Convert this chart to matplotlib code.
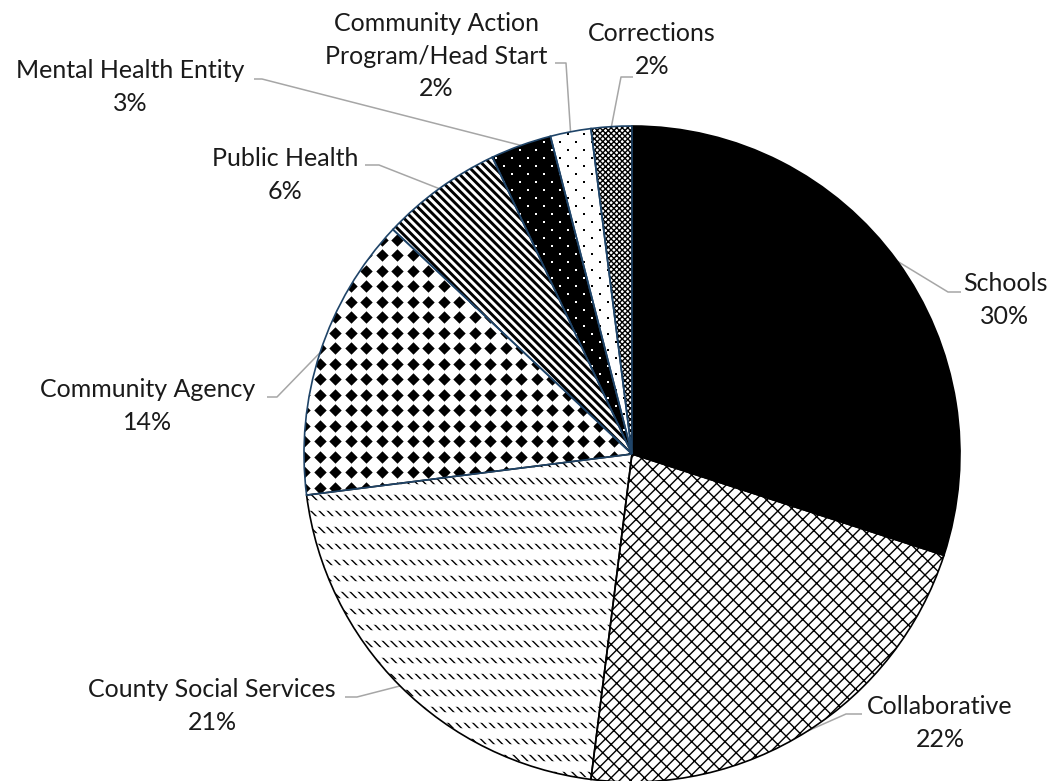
import numpy as np
import matplotlib.pyplot as plt
from matplotlib.collections import LineCollection

W, H = 1061, 781
plt.rcParams["font.family"] = ["Lato", "DejaVu Sans"]
plt.rcParams["hatch.linewidth"] = 1.0

categories = [
    "Schools",
    "Collaborative",
    "County Social Services",
    "Community Agency",
    "Public Health",
    "Mental Health Entity",
    "Community Action\nProgram/Head Start",
    "Corrections",
]
shares = [30, 22, 21, 14, 6, 3, 2, 2]

# label block centres and leader elbows, in pixels from the top-left corner
label_pos = [(1005, 300), (940, 723), (212, 706), (148, 406),
             (285, 175), (130, 87), (436, 56), (652, 50)]
leader_knee = [(948, 292), (846, 714), (357, 697), (277, 397),
               (379, 165), (262, 79), (566, 63), (621, 77)]
leader_end = [(961, 292), (862, 714), (345, 697), (267, 397),
              (365, 165), (254, 79), (555, 63), (633, 77)]

NAVY = "#1f4468"
GREY = "#a6a6a6"

cx, cy, R = 632, H - 454, 328

fig = plt.figure(figsize=(W / 100, H / 100), dpi=100)
ax = fig.add_axes([0, 0, 1, 1])

faces = ["black", "white", "white", "white", "white", "black", "white", "white"]
hatches = [None, "///\\\\", "\\\\\\\\", None, None, None, None, "xxxxxx"]
wedges, _ = ax.pie(shares, startangle=90, counterclock=False, radius=R,
                   center=(cx, cy), colors=faces,
                   wedgeprops=dict(linewidth=0, edgecolor="black"))
for w, h in zip(wedges, hatches):
    if h:
        w.set_hatch(h)

x0, x1, y0, y1 = cx - R, cx + R, cy - R, cy + R

# County Social Services: white bands break the diagonals into dashed rows
bands = ax.hlines(np.arange(y0, y1, 16.3), x0, x1, color="white", lw=7.6, zorder=1.5)
bands.set_clip_path(wedges[2])

# Community Agency: square grid of diamonds
gx, gy = np.meshgrid(np.arange(x0, x1, 15.5), np.arange(y0, y1, 15.5))
dia = ax.scatter(gx.ravel(), gy.ravel(), marker="D", s=40, c="black",
                 linewidths=0, zorder=1.5)
dia.set_clip_path(wedges[3])

# Public Health: bold diagonal stripes
offs = np.arange(x0 + y0 - 2 * R, x1 + y1 + 2 * R, 8.3)
segs = [[(c - (y0 - R), y0 - R), (c - (y1 + R), y1 + R)] for c in offs]
stripes = LineCollection(segs, colors="black", linewidths=2.1, zorder=1.5)
ax.add_collection(stripes)
stripes.set_clip_path(wedges[4])


def stagger_dots(colour, wedge):
    pts = []
    for i, yy in enumerate(np.arange(y0, y1, 8.0)):
        shift = 8.0 if i % 2 else 0.0
        for xx in np.arange(x0 + shift, x1, 16.0):
            pts.append((xx, yy))
    pts = np.array(pts)
    sc = ax.scatter(pts[:, 0], pts[:, 1], marker="s", s=2.2, c=colour,
                    linewidths=0, zorder=1.5)
    sc.set_clip_path(wedge)


stagger_dots("white", wedges[5])
stagger_dots("black", wedges[6])

# outlines on top: black for the lower slices, navy for the upper ones
outline_colours = ["black"] * 3 + [NAVY] * 5
edges, _ = ax.pie(shares, startangle=90, counterclock=False, radius=R,
                  center=(cx, cy),
                  wedgeprops=dict(fill=False, linewidth=1.2))
for w, ec in zip(edges, outline_colours):
    w.set_edgecolor(ec)
    w.set_zorder(3)

for w, lab, v, pos, knee, end in zip(wedges, categories, shares,
                                     label_pos, leader_knee, leader_end):
    theta = np.deg2rad((w.theta1 + w.theta2) / 2)
    sx, sy = cx + R * np.cos(theta), cy + R * np.sin(theta)
    ax.plot([sx, knee[0], end[0]], [sy, H - knee[1], H - end[1]],
            color=GREY, lw=1.1, zorder=2.5, solid_capstyle="butt")
    ax.text(pos[0], H - pos[1], f"{lab}\n{v}%", ha="center", va="center",
            fontsize=18, linespacing=1.5, color="#1a1a1a")

ax.set_xlim(0, W)
ax.set_ylim(0, H)
ax.set_aspect("auto")
ax.axis("off")
fig.savefig("out.png", dpi=100, facecolor="white")
